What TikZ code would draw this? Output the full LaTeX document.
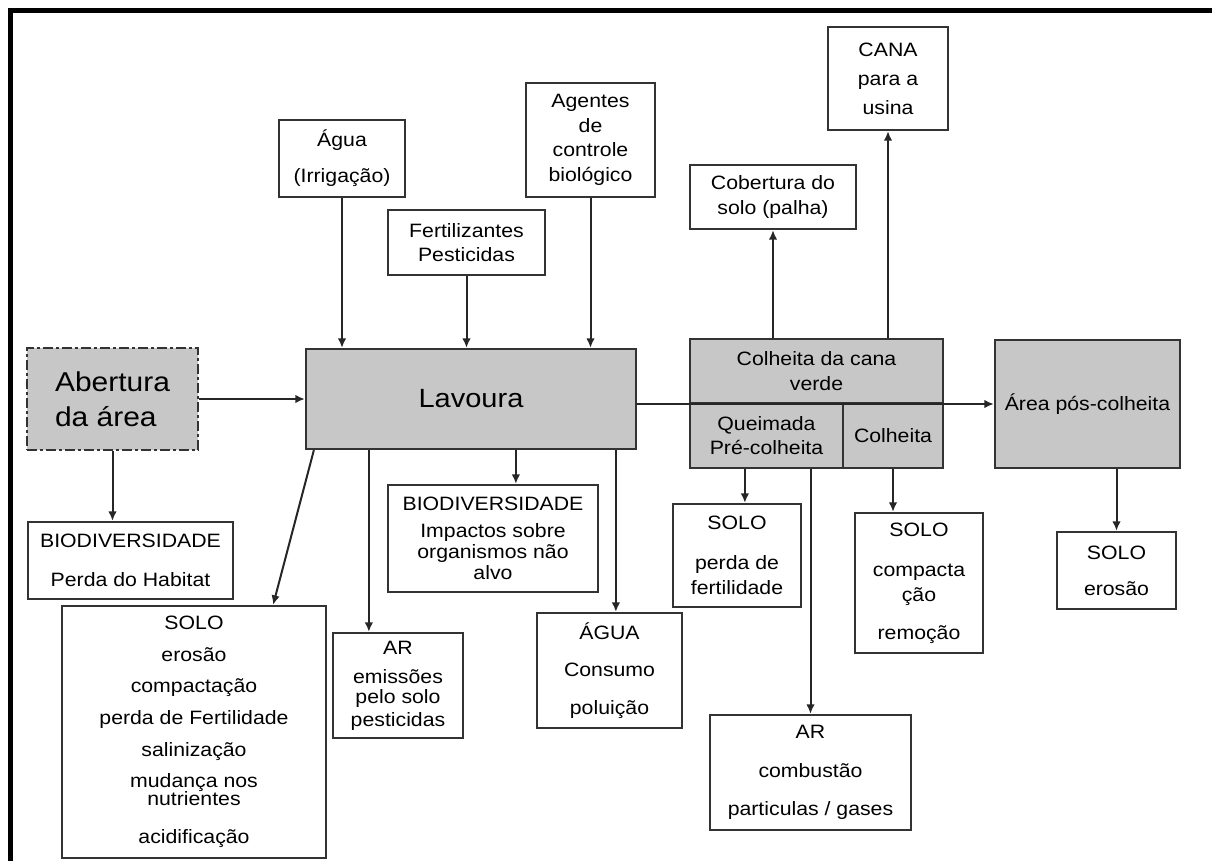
\documentclass[tikz,border=0pt]{standalone}
\usepackage{fontspec}
\setmainfont{Liberation Sans}[FakeStretch=1.1]
\usetikzlibrary{arrows.meta,positioning,calc}

\begin{document}
\begin{tikzpicture}[
  x=0.2mm, y=-0.2mm,
  every node/.style={font=\fontsize{11}{14}\selectfont},
  impacto/.style={draw=black!80, line width=0.45mm, fill=white, align=center, inner sep=0pt},
  etapa/.style={impacto, fill=black!22},
  grande/.style={font=\fontsize{15.5}{20}\selectfont},
  arr/.style={-{Latex[length=1.9mm, width=1.7mm]}, line width=0.4mm, draw=black!85}
]
\useasboundingbox (0,0) rectangle (1212,861);
% moldura
\draw[line width=1mm] (10.5,861) -- (10.5,10.5) -- (1212,10.5);

% entradas da lavoura
\node[impacto, minimum width=25.2mm, minimum height=15.4mm] (agua) at (342,158.5) {Água\\[6.5pt](Irrigação)};
\node[impacto, minimum width=31.4mm, minimum height=13mm] (fert) at (466.5,242.5) {Fertilizantes\\Pesticidas};
\node[impacto, minimum width=25.8mm, minimum height=22.8mm] (agentes) at (590.5,140) {Agentes\\de\\controle\\biológico};

% etapas
\node[etapa, dash pattern=on 2mm off 0.6mm on 0.6mm off 0.6mm, align=left, grande,
      minimum width=34.2mm, minimum height=20.4mm] (abertura) at (112.5,399) {Abertura\\da área};
\node[etapa, grande, font=\fontsize{15}{18}\selectfont, minimum width=66mm, minimum height=20mm] (lavoura) at (471,399) {Lavoura};
\node[etapa, minimum width=50.6mm, minimum height=12.8mm] (colverde) at (816.5,371) {Colheita da cana\\verde};
\node[etapa, minimum width=30.6mm, minimum height=13mm] (queimada) at (766.5,435.5) {Queimada\\Pré-colheita};
\node[etapa, minimum width=20mm, minimum height=13mm] (colheita) at (893,435.5) {Colheita};
\node[etapa, minimum width=37mm, minimum height=25.6mm] (posc) at (1087.5,404) {Área pós-colheita};

% saidas da colheita
\node[impacto, minimum width=33.2mm, minimum height=12.8mm] (cobertura) at (773,197) {Cobertura do\\solo (palha)};
\node[impacto, minimum width=24mm, minimum height=20.6mm] (cana) at (888,78.5) {CANA\\[2.5pt]para a\\[2.5pt]usina};

% impactos
\node[impacto, minimum width=41mm, minimum height=15.4mm] (habitat) at (130.5,560.5) {BIODIVERSIDADE\\[8pt]Perda do Habitat};
\node[impacto, minimum width=52.8mm, minimum height=50.4mm] (solo) at (194,732)
  {SOLO\\[4pt]erosão\\[4pt]compactação\\[4pt]perda de Fertilidade\\[4pt]salinização\\[4pt]mudança nos\\[-4pt]nutrientes\\[8pt]acidificação};
\node[impacto, minimum width=26mm, minimum height=21mm] (ar) at (398,685.5) {AR\\[2.5pt]emissões\\[-2.6pt]pelo solo\\[-1pt]pesticidas};
\node[impacto, minimum width=42mm, minimum height=21.4mm] (impactos) at (493,538.5) {BIODIVERSIDADE\\[1.4pt]Impactos sobre\\[-2pt]organismos não\\[-2pt]alvo};
\node[impacto, minimum width=29mm, minimum height=23mm] (aguab) at (609.5,670.5) {ÁGUA\\[7.3pt]Consumo\\[7.3pt]poluição};
\node[impacto, minimum width=25.6mm, minimum height=20.6mm] (perda) at (737,555.5) {SOLO\\[8.8pt]perda de\\fertilidade};
\node[impacto, minimum width=25.6mm, minimum height=28mm] (compact) at (919,583) {SOLO\\[8.8pt]compacta\\ção\\[7.6pt]remoção};
\node[impacto, minimum width=40.2mm, minimum height=23mm] (combustao) at (810.5,772.5) {AR\\[8pt]combustão\\[8pt]particulas / gases};
\node[impacto, minimum width=23.8mm, minimum height=15.4mm] (erosao) at (1116.5,570.5) {SOLO\\[6.5pt]erosão};

\coordinate (l1) at ([xshift=12.8mm]lavoura.south west);
\coordinate (l2) at ([xshift=42.2mm]lavoura.south west);
\coordinate (l3) at ([xshift=62.2mm]lavoura.south west);
\coordinate (l0) at ([xshift=1.8mm]lavoura.south west);
\coordinate (s0) at ([xshift=-10.8mm]solo.north east);
\coordinate (q1) at ([xshift=11.2mm]queimada.south west);

\draw[arr] (agua.south) -- (agua.south |- lavoura.north);
\draw[arr] (fert.south) -- (fert.south |- lavoura.north);
\draw[arr] (agentes.south) -- (agentes.south |- lavoura.north);
\draw[arr] (abertura.east) -- (lavoura.west);
\draw[arr] (abertura.south) -- (abertura.south |- habitat.north);
\draw[arr] (l0) -- (s0);
\draw[arr] (l1) -- (l1 |- ar.north);
\draw[arr] (l2) -- (l2 |- impactos.north);
\draw[arr] (l3) -- (l3 |- aguab.north);
\draw[arr] (lavoura.east |- posc.west) -- (posc.west);
\draw[arr] (cobertura.south |- colverde.north) -- (cobertura.south);
\draw[arr] (cana.south |- colverde.north) -- (cana.south);
\draw[arr] (q1) -- (q1 |- perda.north);
\draw[arr] (combustao.north |- queimada.south) -- (combustao.north);
\draw[arr] (colheita.south) -- (colheita.south |- compact.north);
\draw[arr] (erosao.north |- posc.south) -- (erosao.north);
\end{tikzpicture}
\end{document}
